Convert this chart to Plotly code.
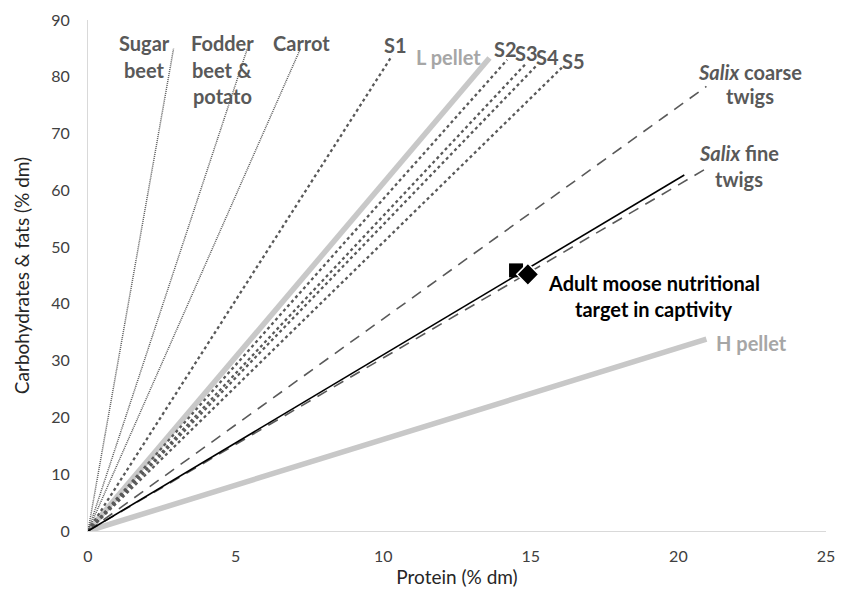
import plotly.graph_objects as go

# ---- data: each food / target line runs from the origin to its end point ----
line_names = ["Sugar beet", "Fodder beet & potato", "Carrot", "S1", "L pellet",
              "S2", "S3", "S4", "S5", "Salix coarse twigs", "Salix fine twigs",
              "Target", "H pellet"]
protein_end = [2.9, 5.4, 7.2, 10.3, 13.6, 14.2, 14.85, 15.2, 16.05, 20.95, 20.9, 20.2, 20.95]
carb_end = [85.0, 85.0, 85.0, 83.7, 83.3, 83.0, 82.4, 82.0, 81.6, 78.3, 63.7, 62.7, 33.8]

target_square = (14.5, 45.9)
target_diamond = (14.9, 45.2)

x_ticks = [0, 5, 10, 15, 20, 25]
y_ticks = [0, 10, 20, 30, 40, 50, 60, 70, 80, 90]

DARK = "#595959"
PELLET = "#c8c8c8"
styles = {
    "Sugar beet": dict(color=DARK, width=1.5, dash="1px,1px"),
    "Fodder beet & potato": dict(color=DARK, width=1.5, dash="1px,1px"),
    "Carrot": dict(color=DARK, width=1.5, dash="1px,1px"),
    "S1": dict(color=DARK, width=2.3, dash="3px,3px"),
    "S2": dict(color=DARK, width=2.3, dash="3px,3px"),
    "S3": dict(color=DARK, width=2.3, dash="3px,3px"),
    "S4": dict(color=DARK, width=2.3, dash="3px,3px"),
    "S5": dict(color=DARK, width=2.3, dash="3px,3px"),
    "L pellet": dict(color=PELLET, width=5.5, dash="solid"),
    "H pellet": dict(color=PELLET, width=5.5, dash="solid"),
    "Salix coarse twigs": dict(color=DARK, width=1.6, dash="11px,8px"),
    "Salix fine twigs": dict(color=DARK, width=1.6, dash="11px,8px"),
    "Target": dict(color="black", width=1.6, dash="solid"),
}

fig = go.Figure()
order = ["L pellet", "H pellet"] + [n for n in line_names if n not in ("L pellet", "H pellet")]
for name in order:
    i = line_names.index(name)
    fig.add_trace(go.Scatter(x=[0, protein_end[i]], y=[0, carb_end[i]], mode="lines",
                             line=styles[name], name=name, hoverinfo="skip", cliponaxis=False))

fig.add_trace(go.Scatter(x=[target_square[0]], y=[target_square[1]], mode="markers",
                         marker=dict(symbol="square", size=14, color="black"), hoverinfo="skip"))
fig.add_trace(go.Scatter(x=[target_diamond[0]], y=[target_diamond[1]], mode="markers",
                         marker=dict(symbol="diamond", size=17, color="black",
                                     line=dict(color="white", width=1.5)), hoverinfo="skip"))

FONT = "Lato"
labels = [
    ("Sugar", 1.93, 85.9, DARK), ("beet", 1.93, 81.2, DARK),
    ("Fodder", 4.54, 85.9, DARK), ("beet &", 4.54, 81.2, DARK), ("potato", 4.54, 76.6, DARK),
    ("Carrot", 7.22, 85.9, DARK),
    ("S1", 10.40, 85.6, DARK),
    ("L pellet", 12.20, 83.5, "#a6a6a6"),
    ("S2", 14.13, 84.9, DARK), ("S3", 14.84, 84.2, DARK),
    ("S4", 15.55, 83.5, DARK), ("S5", 16.46, 82.8, DARK),
    ("<i>Salix</i> coarse", 22.43, 80.8, DARK), ("twigs", 22.43, 76.6, DARK),
    ("<i>Salix</i> fine", 22.05, 66.6, DARK), ("twigs", 22.05, 62.0, DARK),
    ("Adult moose nutritional", 19.17, 43.7, "black"),
    ("target in captivity", 19.17, 39.1, "black"),
    ("H pellet", 22.46, 33.1, "#a6a6a6"),
]
for text, x, y, col in labels:
    fig.add_annotation(x=x, y=y, text="<b>" + text + "</b>", showarrow=False,
                       xanchor="center", yanchor="middle",
                       font=dict(family=FONT, size=20, color=col))

axis_common = dict(showgrid=False, zeroline=False, showline=True, linecolor="#d9d9d9",
                   linewidth=1, ticks="", automargin=False,
                   tickfont=dict(family=FONT, size=16, color="#404040"))
fig.update_xaxes(range=[0, 25], tickvals=x_ticks, ticklabelstandoff=11,
                 title=dict(text="Protein (% dm)", font=dict(family=FONT, size=19, color="#262626"),
                            standoff=6), **axis_common)
fig.update_yaxes(range=[0, 90], tickvals=y_ticks, ticklabelstandoff=14,
                 title=dict(text="Carbohydrates & fats (% dm)",
                            font=dict(family=FONT, size=19, color="#262626"), standoff=16),
                 **axis_common)

# the page body adds an 8 px offset, so the figure is 8 px smaller and margins shifted
fig.update_layout(width=836, height=582, showlegend=False,
                  margin=dict(l=80, r=18, t=12, b=59),
                  plot_bgcolor="white", paper_bgcolor="white")

fig.write_html("out.html")
